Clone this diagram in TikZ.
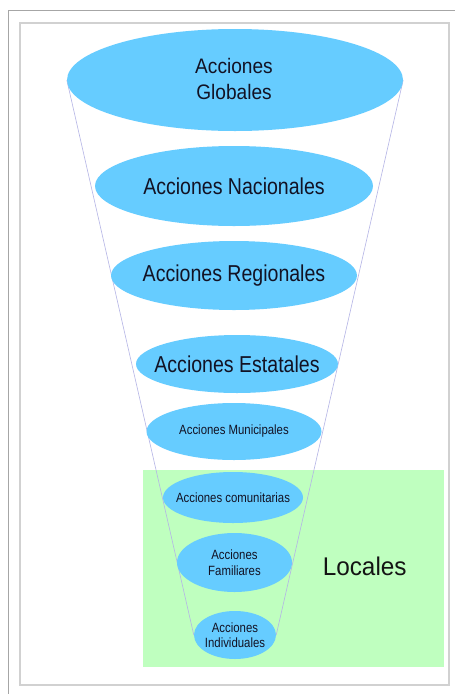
\documentclass[tikz,border=0pt]{standalone}
\usepackage{fontspec}
\setmainfont{Liberation Sans}
\newfontfamily\condA[FakeStretch=0.85]{Liberation Sans}
\newfontfamily\condB[FakeStretch=0.91]{Liberation Sans}
\newfontfamily\condC[FakeStretch=0.95]{Liberation Sans}
\usetikzlibrary{shapes.geometric}
\definecolor{bubblec}{HTML}{66CCFF}
\definecolor{grnc}{HTML}{BFFFBF}
\definecolor{func}{HTML}{B4B4E6}
\definecolor{txtc}{HTML}{121224}
\pgfdeclarelayer{bg}
\pgfdeclarelayer{mid}
\pgfsetlayers{bg,mid,main}
\begin{document}
\begin{tikzpicture}[x=1pt,y=-1pt,
  bubble/.style={ellipse, fill=bubblec, draw=none, inner sep=0pt},
  lbl/.style={text=txtc, align=center, inner sep=0pt},
  huge/.style={font=\condB\fontsize{21}{25.7}\selectfont},
  big/.style={font=\condA\fontsize{23}{27}\selectfont},
  small/.style={font=\condA\fontsize{13.4}{15.5}\selectfont},
  funnel/.style={draw=func, line width=0.6pt}]
\useasboundingbox (0,0) rectangle (455,694);
\begin{pgfonlayer}{bg}
  \fill[white] (0,0) rectangle (455,694);
  \draw[black!35, line width=1pt] (8,694) -- (8,10) -- (455,10);
  \draw[black!18, line width=1.6pt] (20,23) rectangle (449,685);
  \node[fill=grnc, minimum width=301pt, minimum height=197pt, inner sep=0pt, anchor=north west] (loc) at (143,470) {};
\end{pgfonlayer}
\node[text=black!92, inner sep=0pt, font=\condC\fontsize{25.6}{30}\selectfont] (loct) at (364.7,566.5) {Locales};

\node[bubble, minimum width=336pt, minimum height=102pt] (glob) at (235,80) {};
\node[bubble, minimum width=278pt, minimum height=80pt] (nac) at (234,186) {};
\node[bubble, minimum width=246pt, minimum height=69pt] (reg) at (234,275.5) {};
\node[bubble, minimum width=202pt, minimum height=58pt] (est) at (237,364) {};
\node[bubble, minimum width=175pt, minimum height=57pt] (mun) at (234,431.5) {};
\node[bubble, minimum width=140pt, minimum height=51pt] (com) at (233,497.5) {};
\node[bubble, minimum width=115pt, minimum height=59pt] (fam) at (234.5,562.5) {};
\node[bubble, minimum width=82pt, minimum height=48pt] (ind) at (235,635) {};

\node[lbl, huge] (globt) at (234,79) {Acciones\\Globales};
\node[lbl, big] (nact) at (nac) {Acciones Nacionales};
\node[lbl, big] (regt) at (reg) {Acciones Regionales};
\node[lbl, big] (estt) at (est) {Acciones Estatales};
\node[lbl, small] (munt) at (mun) {Acciones Municipales};
\node[lbl, small] (comt) at (com) {Acciones comunitarias};
\node[lbl, small] (famt) at (fam) {Acciones\\Familiares};
\node[lbl, small] (indt) at (ind) {Acciones\\Individuales};

\begin{pgfonlayer}{mid}
  \draw[funnel] (glob.west) -- (ind.west);
  \draw[funnel] (glob.east) -- (ind.east);
\end{pgfonlayer}
\end{tikzpicture}
\end{document}
